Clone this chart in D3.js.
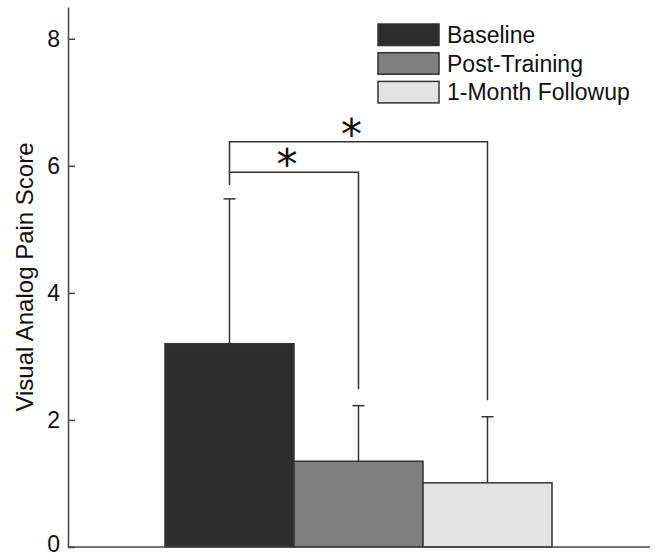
<!DOCTYPE html>
<html lang="en">
<head>
<meta charset="utf-8">
<title>Visual Analog Pain Score</title>
<script src="https://cdn.jsdelivr.net/npm/d3@7"></script>
<style>
  body { margin: 0; background: #fff; }
  text { font-family: "Liberation Sans", Arial, sans-serif; fill: #111; }
</style>
</head>
<body>
<script>
// data
var categories = ["Baseline", "Post-Training", "1-Month Followup"];
var means = [3.2, 1.35, 1.01];
var sds = [2.28, 0.875, 1.04];
var colors = ["#2e2e2e", "#7f7f7f", "#e3e3e3"];
var yTicks = [0, 2, 4, 6, 8];
// significance brackets: [from, to, bracket level]
var sigPairs = [[0, 1, 5.9], [0, 2, 6.38]];

var w = 655, h = 556;
var svg = d3.select("body").append("svg").attr("width", w).attr("height", h);

var x = d3.scaleBand().domain(categories).range([165, 552]).padding(0);
var y = d3.scaleLinear().domain([0, 8.5]).range([547, 7]);
var ink = "#333";

// bars
svg.selectAll("rect.bar")
  .data(categories)
  .enter().append("rect")
  .attr("class", "bar")
  .attr("x", function(d) { return x(d); })
  .attr("width", x.bandwidth())
  .attr("y", function(d, i) { return y(means[i]); })
  .attr("height", function(d, i) { return y(0) - y(means[i]); })
  .attr("fill", function(d, i) { return colors[i]; })
  .attr("stroke", ink)
  .attr("stroke-width", 1.5);

// upper error bars
var cx = function(i) { return x(categories[i]) + x.bandwidth() / 2; };
categories.forEach(function(d, i) {
  var top = y(means[i] + sds[i]);
  svg.append("line")
    .attr("x1", cx(i)).attr("x2", cx(i))
    .attr("y1", y(means[i])).attr("y2", top)
    .attr("stroke", ink).attr("stroke-width", 1.5);
  svg.append("line")
    .attr("x1", cx(i) - 6).attr("x2", cx(i) + 6)
    .attr("y1", top).attr("y2", top)
    .attr("stroke", ink).attr("stroke-width", 1.5);
});

// significance brackets
sigPairs.forEach(function(p, k) {
  var a = p[0], b = p[1], lvl = p[2];
  var leftEnd = k === 0 ? means[a] + sds[a] + 0.22 : sigPairs[0][2];
  var rightEnd = means[b] + sds[b] + 0.26;
  svg.append("path")
    .attr("d", "M" + cx(a) + "," + y(leftEnd) + "V" + y(lvl) + "H" + cx(b) + "V" + y(rightEnd))
    .attr("fill", "none").attr("stroke", ink).attr("stroke-width", 1.5);
  svg.append("text")
    .attr("x", (cx(a) + cx(b)) / 2 - 7)
    .attr("y", y(lvl) + 7)
    .attr("text-anchor", "middle")
    .style("font-family", "DejaVu Sans")
    .style("font-size", "42px")
    .text("*");
});

// y axis
var yAxis = d3.axisLeft(y).tickValues(yTicks).tickSize(-7).tickSizeOuter(0).tickPadding(8);
var gy = svg.append("g").attr("transform", "translate(68,0)").call(yAxis);
gy.selectAll("path, line").attr("stroke", "#444").attr("stroke-width", 1.5);
gy.selectAll("text").style("font-size", "23px").attr("fill", "#111")
  .attr("dy", function(d) { return d === 0 ? "0.2em" : "0.32em"; });

// x axis line
svg.append("line")
  .attr("x1", 68).attr("x2", 650)
  .attr("y1", y(0)).attr("y2", y(0))
  .attr("stroke", "#444").attr("stroke-width", 1.5);

svg.append("text")
  .attr("transform", "translate(33," + ((y(0) + y(8.5)) / 2) + ") rotate(-90)")
  .attr("text-anchor", "middle")
  .style("font-size", "24px")
  .text("Visual Analog Pain Score");

// legend
var lg = svg.append("g").attr("transform", "translate(378,24)");
categories.forEach(function(d, i) {
  lg.append("rect")
    .attr("x", 0).attr("y", i * 28.7)
    .attr("width", 61).attr("height", 21.5)
    .attr("fill", colors[i]).attr("stroke", ink).attr("stroke-width", 1.5);
  lg.append("text")
    .attr("x", 69).attr("y", i * 28.7 + 19)
    .style("font-size", "23px")
    .text(d);
});
</script>
</body>
</html>
